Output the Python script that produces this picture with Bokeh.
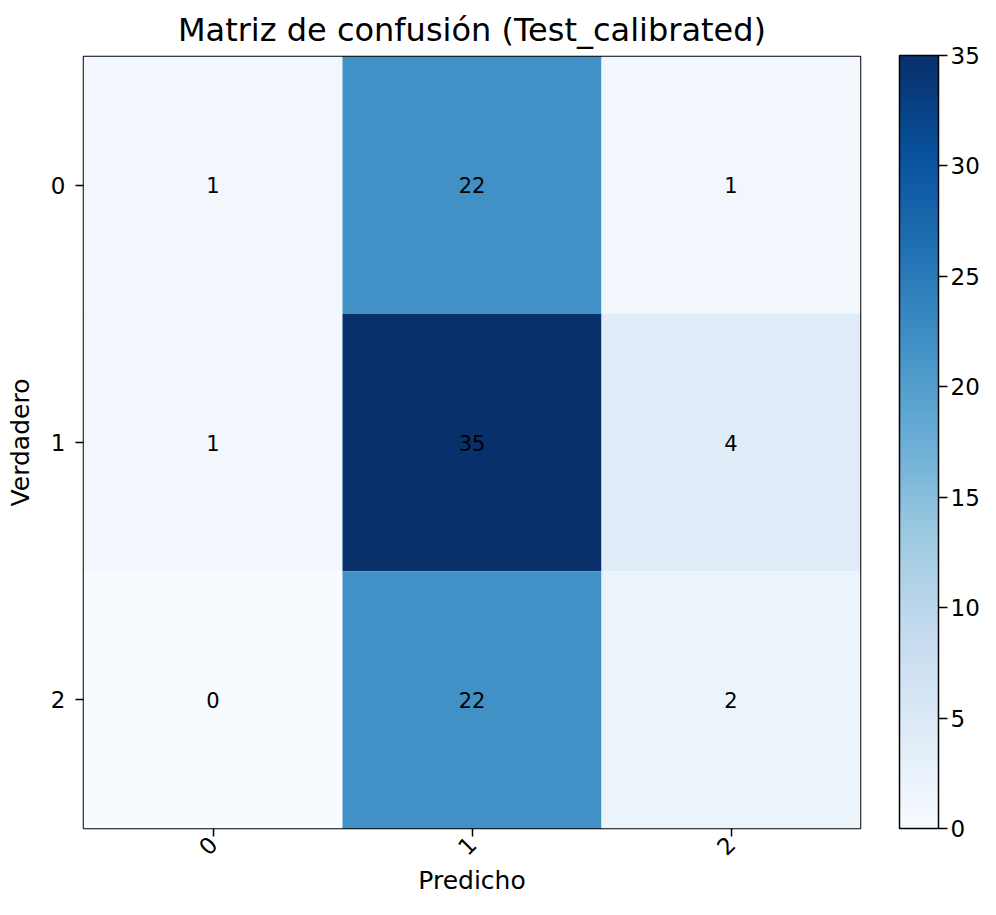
from bokeh.plotting import figure
from bokeh.models import LinearColorMapper, ColorBar, FixedTicker, ColumnDataSource
from bokeh.palettes import Blues256
from bokeh.core.properties import value
from bokeh.embed import file_html
from bokeh.resources import INLINE
import math

# ---- data ----
classes = ["0", "1", "2"]
true_row0 = [1, 22, 1]
true_row1 = [1, 35, 4]
true_row2 = [0, 22, 2]
colorbar_ticks = [0, 5, 10, 15, 20, 25, 30, 35]
title_text = "Matriz de confusión (Test_calibrated)"
xlabel = "Predicho"
ylabel = "Verdadero"

rows = [true_row0, true_row1, true_row2]
pred, true, counts = [], [], []
for ti, row in enumerate(rows):
    for pi, v in enumerate(row):
        pred.append(classes[pi])
        true.append(classes[ti])
        counts.append(v)
src = ColumnDataSource(dict(pred=pred, true=true, count=counts,
                            label=[str(c) for c in counts]))

FONT = "DejaVu Sans"
mapper = LinearColorMapper(palette=list(reversed(Blues256)), low=0, high=35)

FRAME_TOP = 56
FRAME_BOTTOM_BORDER = 71
FIG_H = 899
frame_h = FIG_H - FRAME_TOP - FRAME_BOTTOM_BORDER

p = figure(width=980, height=FIG_H, output_backend="svg", toolbar_location=None,
           x_range=classes, y_range=list(reversed(classes)),
           min_border_left=83, min_border_right=120, min_border_top=FRAME_TOP,
           min_border_bottom=FRAME_BOTTOM_BORDER)

p.rect(x="pred", y="true", width=1, height=1, source=src,
       fill_color={"field": "count", "transform": mapper}, line_color=None)
p.text(x="pred", y="true", text="label", source=src, text_align="center",
       text_baseline="middle", text_font=value(FONT), text_font_size="21px",
       text_color="black")

p.title.text = title_text
p.title.align = "center"
p.title.text_font = FONT
p.title.text_font_size = "32px"
p.title.text_font_style = "normal"
p.title.text_color = "black"
p.title.standoff = 16

p.grid.visible = False
p.outline_line_color = "black"
p.outline_line_width = 1.5
p.outline_line_alpha = 1.0
p.background_fill_color = "white"

for ax in (p.xaxis[0], p.yaxis[0]):
    ax.axis_line_color = None
    ax.major_tick_in = 0
    ax.major_tick_out = 8
    ax.major_tick_line_width = 1.5
    ax.major_tick_line_color = "black"
    ax.minor_tick_line_color = None
    ax.major_label_text_font = FONT
    ax.major_label_text_font_size = "23px"
    ax.major_label_text_color = "black"
    ax.axis_label_text_font = FONT
    ax.axis_label_text_font_size = "25px"
    ax.axis_label_text_font_style = "normal"
    ax.axis_label_text_color = "black"

p.xaxis.axis_label = xlabel
p.yaxis.axis_label = ylabel
p.xaxis.major_label_orientation = math.pi / 4
p.xaxis.major_label_standoff = 4
p.yaxis.major_label_standoff = 10
p.xaxis.axis_label_standoff = 0
p.yaxis.axis_label_standoff = 13

cb = ColorBar(color_mapper=mapper, ticker=FixedTicker(ticks=colorbar_ticks),
              width=39, height=frame_h + 1, padding=0, margin=0,
              location=(816, 0),
              major_tick_in=0, major_tick_out=9,
              major_tick_line_color="black", major_tick_line_width=1.5,
              bar_line_color="black", bar_line_width=1.5,
              major_label_text_font=FONT, major_label_text_font_size="23px",
              major_label_text_color="black", label_standoff=3,
              border_line_color=None, background_fill_color=None)
p.add_layout(cb, "center")

open("out.html", "w").write(file_html(p, INLINE))
